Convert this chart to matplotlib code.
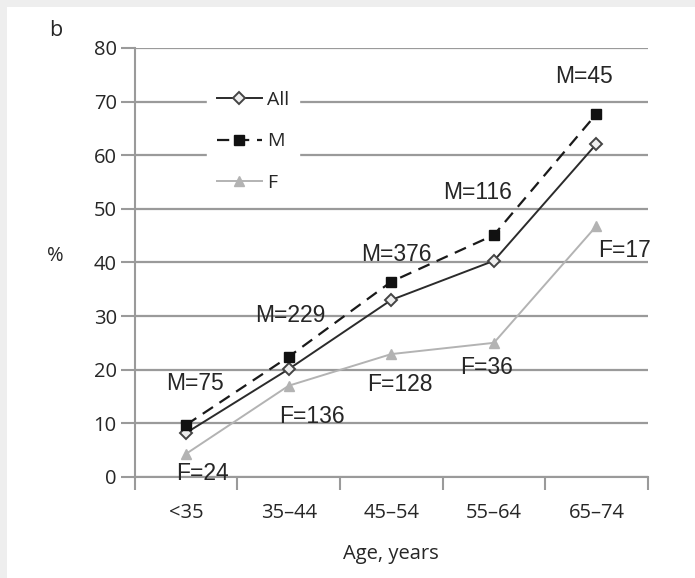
import matplotlib.pyplot as plt
from matplotlib.patches import Rectangle
import numpy as np

# age groups and prevalence (%)
age_groups = ['<35', '35\u201344', '45\u201354', '55\u201364', '65\u201374']
all_pct = [8.2, 20.1, 33.0, 40.3, 62.1]
men_pct = [9.7, 22.4, 36.4, 45.1, 67.7]
women_pct = [4.3, 17.0, 22.9, 25.0, 46.8]

# group sizes written next to the points
men_n = [75, 229, 376, 116, 45]
women_n = [24, 136, 128, 36, 17]

x = np.arange(len(age_groups))
grid_col = '#9a9a9a'
text_col = '#262626'
tick_font = 'Open Sans'
note_font = 'Liberation Sans'

fig = plt.figure(figsize=(6.95, 5.78), dpi=100)
fig.patch.set_facecolor('white')
# light frame along the top and left edges
fig.add_artist(Rectangle((0, 0.988), 1, 0.012, transform=fig.transFigure,
                         color='#eeeeee', lw=0, zorder=-5))
fig.add_artist(Rectangle((0, 0), 0.010, 1, transform=fig.transFigure,
                         color='#eeeeee', lw=0, zorder=-5))

ax = fig.add_axes([0.194, 0.175, 0.738, 0.742])

ax.plot(x, all_pct, color='#2b2b2b', lw=1.4, marker='D', ms=6,
        mfc='#eeeeee', mec='#444444', mew=1.4, label='All', zorder=4)
ax.plot(x, men_pct, color='#1a1a1a', lw=1.6, ls=(0, (5.5, 3.5)), marker='s',
        ms=7, mfc='#111111', mec='#111111', label='M', zorder=5)
ax.plot(x, women_pct, color='#b3b3b3', lw=1.4, marker='^', ms=7,
        mfc='#b3b3b3', mec='#b3b3b3', label='F', zorder=3)

# n labels, offset from the points in points
men_off = [(6.5, 29.5), (1.5, 29.5), (4, 19.5), (-12, 31), (-9, 27)]
women_off = [(11.5, -14.5), (17, -22), (6.5, -22), (-5, -18), (20, -18)]
for i in range(len(x)):
    ax.annotate(f'M={men_n[i]}', (x[i], men_pct[i]), xytext=men_off[i],
                textcoords='offset points', ha='center', va='center',
                fontsize=16.5, family=note_font, color=text_col, zorder=6)
    ax.annotate(f'F={women_n[i]}', (x[i], women_pct[i]), xytext=women_off[i],
                textcoords='offset points', ha='center', va='center',
                fontsize=16.5, family=note_font, color=text_col, zorder=6)

ax.set_xlim(-0.5, 4.5)
ax.set_ylim(0, 80)
ax.set_yticks(range(0, 81, 10))
ax.yaxis.grid(True, color=grid_col, lw=1.6)
ax.set_axisbelow(True)

# x ticks at group boundaries, labels centred in each group
ax.set_xticks(np.arange(-0.5, 5, 1))
ax.set_xticklabels([])
ax.set_xticks(x, minor=True)
ax.set_xticklabels(age_groups, minor=True, fontsize=14.5, family=tick_font,
                   color=text_col)
ax.tick_params(axis='x', which='major', length=9, width=1.5, color=grid_col)
ax.tick_params(axis='x', which='minor', length=0, pad=19)
ax.tick_params(axis='y', length=10, width=1.5, color=grid_col, pad=3)
for lab in ax.get_yticklabels():
    lab.set_fontsize(14.5)
    lab.set_family(tick_font)
    lab.set_color(text_col)

for side in ['top', 'right']:
    ax.spines[side].set_visible(False)
for side in ['left', 'bottom']:
    ax.spines[side].set_color(grid_col)
    ax.spines[side].set_linewidth(1.5)

ax.set_xlabel('Age, years', fontsize=14.5, family=tick_font, color=text_col,
              labelpad=15)
fig.text(0.08, 0.557, '%', fontsize=14.5, family=tick_font, color=text_col,
         ha='center', va='center')
fig.text(0.08, 0.948, 'b', fontsize=15.5, family=tick_font, color=text_col,
         ha='center', va='center')

leg = ax.legend(loc='upper left', bbox_to_anchor=(0.122, 0.945), frameon=True,
                framealpha=1, edgecolor='white', facecolor='white',
                prop={'family': tick_font, 'size': 14}, handlelength=2.3,
                labelspacing=1.2, borderpad=0.5, handletextpad=0.3,
                fancybox=False)
for t in leg.get_texts():
    t.set_color(text_col)

fig.savefig('out.png', dpi=100)
